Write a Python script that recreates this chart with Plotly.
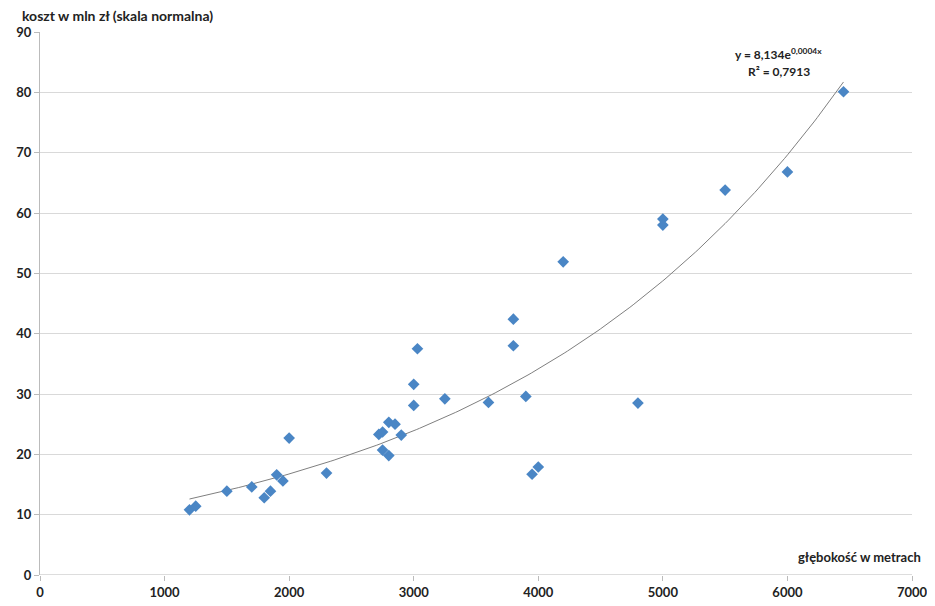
import numpy as np
import plotly.graph_objects as go

depth_m = [1200, 1250, 1500, 1700, 1800, 1850, 1900, 1950, 2000, 2300,
           2720, 2750, 2750, 2800, 2800, 2850, 2900, 3000, 3000, 3030,
           3250, 3600, 3800, 3800, 3900, 3950, 4000, 4200, 4800, 5000,
           5000, 5500, 6000, 6450]
cost_mln = [10.8, 11.4, 13.9, 14.6, 12.8, 13.9, 16.6, 15.6, 22.7, 16.9,
            23.3, 23.7, 20.7, 19.8, 25.3, 25.0, 23.2, 28.1, 31.6, 37.5,
            29.2, 28.6, 38.0, 42.4, 29.6, 16.7, 17.9, 51.9, 28.5, 59.0,
            58.0, 63.8, 66.8, 80.1]

eq_text = "y = 8,134e<sup>0,0004x</sup>"
r2_text = "R² = 0,7913"

# exponential trendline (least squares on ln y, as in spreadsheet trendline)
b, ln_a = np.polyfit(np.array(depth_m, float), np.log(np.array(cost_mln, float)), 1)
tx = np.linspace(min(depth_m), max(depth_m), 200)
ty = np.exp(ln_a) * np.exp(b * tx)

font_family = "Lato, 'Open Sans', sans-serif"

fig = go.Figure()
fig.add_trace(go.Scatter(x=tx, y=ty, mode="lines",
                         line=dict(color="#7f7f7f", width=1), hoverinfo="skip",
                         showlegend=False))
fig.add_trace(go.Scatter(x=depth_m, y=cost_mln, mode="markers",
                         marker=dict(symbol="diamond", size=9, color="#4a86c5"),
                         showlegend=False))

fig.update_layout(
    width=935, height=606,
    margin=dict(l=32, r=31, t=24, b=39),
    paper_bgcolor="white", plot_bgcolor="white",
    font=dict(family=font_family, size=13, color="#222"),
    xaxis=dict(range=[0, 7000], dtick=1000, tick0=0, showgrid=False,
               zeroline=False, showline=False, automargin=False,
               ticks="outside", ticklen=5, tickcolor="#bbb",
               tickfont=dict(size=13, family=font_family, weight="bold")),
    yaxis=dict(range=[0, 90], dtick=10, tick0=0, showgrid=True,
               gridcolor="#d9d9d9", gridwidth=1, zeroline=False,
               showline=True, linecolor="#bbb", linewidth=1, automargin=False,
               ticks="outside", ticklen=5, tickcolor="#bbb",
               tickfont=dict(size=13, family=font_family, weight="bold")),
    annotations=[
        dict(text="koszt w mln zł (skala normalna)", xref="paper", yref="paper",
             x=-0.023, y=1.0, yshift=6, xanchor="left", yanchor="bottom",
             showarrow=False, font=dict(size=14, family=font_family, weight="bold")),
        dict(text="głębokość w metrach", xref="paper", yref="y",
             x=1.013, y=0, yshift=8, xanchor="right", yanchor="bottom",
             showarrow=False, font=dict(size=13, family=font_family, weight="bold")),
        dict(text=eq_text, xref="x", yref="y", x=5930, y=86.3,
             xanchor="center", yanchor="middle", showarrow=False,
             font=dict(size=12, family=font_family, weight="bold")),
        dict(text=r2_text, xref="x", yref="y", x=5930, y=83.4,
             xanchor="center", yanchor="middle", showarrow=False,
             font=dict(size=12, family=font_family, weight="bold")),
    ],
)
# horizontal axis line at y=0
fig.add_hline(y=0, line=dict(color="#bbb", width=1))

fig.write_html("out.html")
